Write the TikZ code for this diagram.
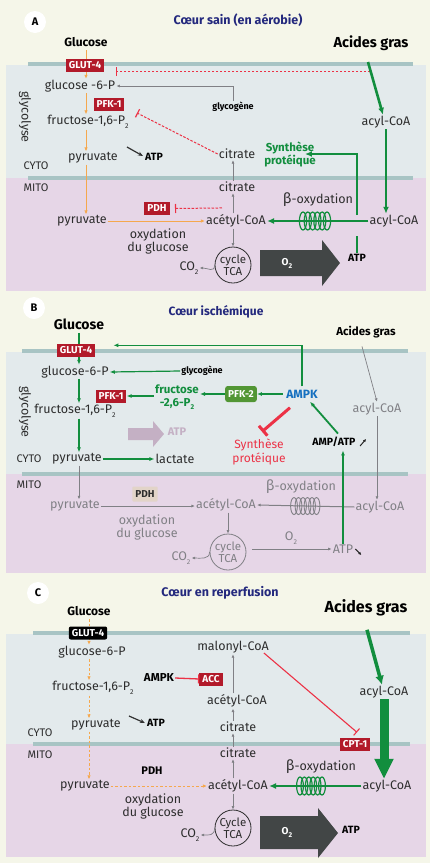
\documentclass[tikz,border=0pt]{standalone}
\usepackage{fontspec}
\setmainfont{Fira Sans}
\usetikzlibrary{positioning, shapes, arrows.meta, calc}

\definecolor{bgcream}{RGB}{245,246,233}
\definecolor{cytobg}{RGB}{227,234,236}
\definecolor{mitobg}{RGB}{230,214,231}
\definecolor{membr}{RGB}{168,196,196}
\definecolor{titleblue}{RGB}{35,40,125}
\definecolor{enzred}{RGB}{178,26,42}
\definecolor{inhred}{RGB}{236,50,70}
\definecolor{flowgreen}{RGB}{18,142,62}
\definecolor{glyorange}{RGB}{245,168,78}
\definecolor{ampkblue}{RGB}{22,112,192}
\definecolor{darkarrow}{RGB}{66,70,70}
\definecolor{fadegrey}{RGB}{128,128,133}
\definecolor{labelgrey}{RGB}{45,45,45}
\definecolor{pdhbeige}{RGB}{226,212,200}
\definecolor{pfkfill}{RGB}{82,150,52}
\definecolor{paleatp}{RGB}{196,176,196}

\newcommand{\dn}[1]{\raisebox{-0.55ex}{\scriptsize #1}}

\tikzset{
  lbl/.style={font=\fontsize{12.5}{13}\selectfont, text=labelgrey, inner sep=1pt},
  grlbl/.style={lbl, text=fadegrey},
  lblb/.style={font=\bfseries\fontsize{10.5}{12}\selectfont, text=black, inner sep=1pt},
  smallb/.style={font=\bfseries\fontsize{9}{10}\selectfont, text=black, inner sep=1pt},
  vert/.style={lbl, rotate=-90},
  letter/.style={circle, fill=white, inner sep=0pt, minimum size=22pt, font=\bfseries\fontsize{11}{12}\selectfont},
  titre/.style={font=\bfseries\fontsize{12.5}{13}\selectfont, text=titleblue},
  enz/.style={fill=enzred, text=white, font=\bfseries\fontsize{10}{11}\selectfont, inner xsep=3pt, inner ysep=1.5pt, minimum height=13pt},
  enzk/.style={enz, fill=black, rounded corners=2pt},
  pdhpale/.style={enz, fill=pdhbeige, text=labelgrey, rounded corners=1pt, minimum height=15pt},
  pfkbox/.style={enz, fill=pfkfill, rounded corners=2.5pt, minimum height=16pt},
  tca/.style={circle, draw=labelgrey, line width=0.8pt, inner sep=0pt, minimum size=36pt, align=center, font=\fontsize{11.5}{10}\selectfont, text=labelgrey},
  greenb/.style={font=\bfseries\fontsize{11.5}{13}\selectfont, text=flowgreen, align=center, inner sep=1pt},
  o2lbl/.style={font=\bfseries\fontsize{10}{11}\selectfont, text=white},
  glyc/.style={glyorange, line width=1pt, -{Latex[length=4pt,width=3.5pt]}},
  glycd/.style={glyc, dash pattern=on 2.5pt off 2pt},
  grarr/.style={fadegrey, line width=0.7pt, -{Latex[length=3.5pt,width=3pt]}},
  grnA/.style={flowgreen, line width=2.2pt, -{Latex[length=7pt,width=6pt]}},
  grnB/.style={flowgreen, line width=1.2pt, -{Latex[length=5pt,width=4pt]}},
  inhd/.style={inhred, line width=1pt, dash pattern=on 2.5pt off 1.5pt, -{Bar[width=9pt, line width=1.2pt]}},
  inhs/.style={inhred, line width=1.3pt, -{Bar[width=9pt]}},
  atparr/.style={black!80, line width=1.2pt, -{Stealth[length=5pt,width=4pt]}},
  tinyarr/.style={black!85, line width=1pt, -{Latex[length=3pt,width=3pt]}},
}

\begin{document}
\begin{tikzpicture}[x=1pt, y=-1pt]
  \useasboundingbox (0,0) rectangle (430,863);
  \fill[bgcream] (0,0) rectangle (430,863);

  % ---------- A : coeur sain ----------
  \fill[cytobg] (6,65) rectangle (426,178);
  \fill[mitobg] (6,178) rectangle (426,291);
  \draw[membr, line width=4pt] (28,64) -- (413,64);
  \draw[membr, line width=4pt] (28,178) -- (413,178);

  % Nodes
  \node[letter] (letA) at (35,22) {A};
  \node[titre] (titA) at (238,20) {Cœur sain (en aérobie)};
  \node[font=\bfseries\fontsize{12}{13}\selectfont] (glcA) at (86,42) {Glucose};
  \node[font=\bfseries\fontsize{14.5}{15}\selectfont] (agA) at (371,43) {Acides gras};
  \node[lbl] (g6pA) at (80,86) {glucose -6-P};
  \node[lbl] (f16A) at (88,122) {fructose-1,6-P\dn{2}};
  \node[vert] (glyA) at (25,117) {glycolyse};
  \node[lbl] (pyrcA) at (93,158) {pyruvate};
  \node[lblb] (atpcA) at (154,157) {ATP};
  \node[lbl, font=\fontsize{11}{12}\selectfont] (cytoA) at (36,166) {CYTO};
  \node[lbl, font=\fontsize{11}{12}\selectfont] (mitoA) at (36,188) {MITO};
  \node[lbl] (pyrmA) at (82,221) {pyruvate};
  \node[lbl, align=center] (oxgA) at (158,241) {oxydation\\du glucose};
  \node[lbl] (acetA) at (236,221) {acétyl-CoA};
  \node[lbl] (citmA) at (237,187) {citrate};
  \node[lbl] (citcA) at (237,154) {citrate};
  \node[smallb] (glygA) at (233,107) {glycogène};
  \node[tca] (tcaA) at (233,265) {cycle\\TCA};
  \node[lbl] (co2A) at (189,268) {CO\dn{2}};
  \node[lbl] (acylcA) at (386,122) {acyl-CoA};
  \node[lbl] (acylmA) at (394,221) {acyl-CoA};
  \node[greenb] (synA) at (290,154) {Synthèse\\protéique};
  \node[lblb] (atpmA) at (357,258) {ATP};
  \node[lbl] (boxA) at (318,200) {{\Large β}-oxydation};
  \coordinate (faA) at (370,71.5);
  \coordinate (coilA) at (315,221);

  % Arrows
  \draw[glyc] (glcA.south) -- (glcA.south |- g6pA.north);
  \draw[glyc] (g6pA.south -| glcA.south) -- (f16A.north -| glcA.south);
  \draw[glyc] (f16A.south -| glcA.south) -- (pyrcA.north -| glcA.south);
  \draw[glyc] (pyrcA.south -| glcA.south) -- (pyrmA.north -| glcA.south);
  \draw[glyc] (pyrmA.east) -- (acetA.west);
  \draw[atparr] ($(atpcA.west)+(-17,-10)$) -- ($(atpcA.west)+(-1,-1)$);
  \draw[grarr] (glygA.north) |- (g6pA.east);
  \draw[grarr] (acetA.north -| tcaA) -- (citmA.south -| tcaA);
  \draw[grarr] (citmA.north -| tcaA) -- (citcA.south -| tcaA);
  \draw[grarr] (acetA.south -| tcaA) -- (tcaA.north);
  \draw[grarr] (tcaA.west) .. controls +(0,8) and +(8,0) .. (co2A.east);
  \draw[inhd] (faA) -- ($(faA -| glcA.east)+(5,0)$);
  \draw[inhd] (citcA.west) -- (137,113);
  \draw[inhd] (acetA.north) ++(-14,-5.5) -- (175,208.5);
  \draw[grnA, line width=2.6pt] ($(agA.south)+(-3,8)$) -- ($(acylcA.north)+(-3,0)$);
  \draw[grnA] (acylcA.south) -- (acylcA.south |- acylmA.north);
  \draw[grnA, line width=1.8pt] (acylmA.west) -- (acetA.east);
  \foreach \i in {0,...,5}
    \draw[flowgreen, line width=1.2pt] ($(coilA)+(\i*4.8-12,0)$) ellipse (3.6 and 9);
  \draw[flowgreen, line width=2.2pt] (atpmA.north) -- ++(0,-17);
  \draw[grnA] ($(atpmA.north)+(0,-38)$) |- ($(synA.east)+(-12,0)$);

  % enzymes and O2
  \node[enz] (glutA) at (85,65) {GLUT-4};
  \node[enz] (pfkA) at (109,104) {PFK-1};
  \node[enz] (pdhA) at (157,208) {PDH};
  \fill[darkarrow] (260,250) -- (322,250) -- (322,240) -- (340,263) -- (322,286) -- (322,276) -- (260,276) -- cycle;
  \node[o2lbl] (o2A) at (287,263) {O\dn{2}};

  % ---------- B : coeur ischemique ----------
  \fill[cytobg] (6,352) rectangle (426,474);
  \fill[mitobg] (6,474) rectangle (426,573);
  \draw[membr, line width=4pt] (22,351) -- (408,351);
  \draw[membr, line width=4pt] (22,474) -- (408,474);

  % Nodes
  \node[letter] (letB) at (34,308) {B};
  \node[titre, font=\bfseries\fontsize{12}{13}\selectfont] (titB) at (216,312) {Cœur ischémique};
  \node[font=\bfseries\fontsize{14}{15}\selectfont] (glcB) at (79,324) {Glucose};
  \node[font=\bfseries\fontsize{11.5}{13}\selectfont] (agB) at (366,332) {Acides gras};
  \node[lbl] (g6pB) at (75,372) {glucose-6-P};
  \node[smallb] (glygB) at (202,371) {glycogène};
  \node[greenb] (f26B) at (177,397) {fructose\\-2,6-P\dn{2}};
  \node[font=\bfseries\fontsize{12}{13}\selectfont, text=ampkblue] (ampkB) at (302,394) {AMPK};
  \node[lbl] (f16B) at (75,411) {fructose-1,6-P\dn{2}};
  \node[vert] (glyB) at (25,412) {glycolyse};
  \node[font=\bfseries\fontsize{11}{12}\selectfont, text=paleatp] (atpfB) at (177,432) {ATP};
  \node[lbl] (pyrcB) at (77,459) {pyruvate};
  \node[lbl] (lacB) at (175,459) {lactate};
  \node[lbl, font=\fontsize{11}{12}\selectfont] (cytoB) at (29,459) {CYTO};
  \node[lbl, font=\fontsize{11}{12}\selectfont] (mitoB) at (29,485) {MITO};
  \node[grlbl] (pyrmB) at (75,506) {pyruvate};
  \node[grlbl, align=center] (oxgB) at (147,527) {oxydation\\du glucose};
  \node[grlbl] (acetB) at (226,505) {acétyl-CoA};
  \node[tca, draw=fadegrey, text=fadegrey] (tcaB) at (228,552) {cycle\\TCA};
  \node[grlbl] (co2B) at (181,558) {CO\dn{2}};
  \node[grlbl] (boxB) at (301,487) {{\Large β}-oxydation};
  \node[grlbl] (acylmB) at (380,507) {acyl-CoA};
  \node[grlbl] (acylcB) at (377,409) {acyl-CoA};
  \node[grlbl] (o2B) at (291,538) {O\dn{2}};
  \node[grlbl] (atpmB) at (343,549) {ATP};
  \node[font=\bfseries\fontsize{10.5}{12}\selectfont] (ampatpB) at (334,442) {AMP/ATP};
  \node[greenb, text=inhred, font=\fontsize{12}{14}\selectfont] (synB) at (259,452) {Synthèse\\protéique};
  \coordinate (coilB) at (305,506);

  % Arrows
  \draw[grnB] (glcB.south) -- (glcB.south |- g6pB.north);
  \draw[grnB] (g6pB.south -| glcB.south) -- (f16B.north -| glcB.south);
  \draw[grnB] (f16B.south -| glcB.south) -- (pyrcB.north -| glcB.south);
  \draw[grnB] (pyrcB.east) -- (lacB.west);
  \draw[grarr] (pyrcB.south -| glcB.south) -- (pyrmB.north -| glcB.south);
  \draw[grnB] (glygB.west) -- (g6pB.east);
  \fill[paleatp] (128,428) -- (153,428) -- (153,421) -- (164,434) -- (153,447) -- (153,440) -- (128,440) -- cycle;
  \draw[grarr] (pyrmB.east) -- (acetB.west |- pyrmB.east);
  \draw[grarr] (acetB.south -| tcaB) -- (tcaB.north);
  \draw[grarr] (tcaB.west) .. controls +(0,8) and +(8,0) .. (co2B.east);
  \draw[grarr] ($(tcaB.east |- atpmB.west)+(6,0)$) -- (atpmB.west);
  \draw[grarr] ($(agB.south)+(-4,5)$) -- (acylcB.north);
  \draw[grarr] (acylcB.south) -- (acylcB.south |- acylmB.north);
  \draw[grarr, line width=1pt] (acylmB.west) -- (acetB.east);
  \foreach \i in {0,...,5}
    \draw[fadegrey, line width=0.9pt] ($(coilB)+(\i*4.5-11,0)$) ellipse (3.4 and 8.5);
  \draw[tinyarr] ($(atpmB.east)+(1,0)$) -- ++(6,6);
  \draw[tinyarr] ($(ampatpB.east)+(1,4)$) -- ++(6,-7);
  \draw[grnB] (atpmB.north) -- (ampatpB.south -| atpmB.north);
  \draw[grnB, line width=1.8pt] ($(ampatpB.north)+(4,0)$) -- ($(ampkB.south)+(8,0)$);
  \draw[inhred, line width=3pt, -{Bar[width=13pt, line width=3pt]}] ($(ampkB.south)+(-12,6)$) -- ($(synB.north)+(3,-6)$);

  % enzymes
  \node[enz] (glutB) at (76,350) {GLUT-4};
  \node[enz] (pfkB) at (111,396) {PFK-1};
  \node[pfkbox] (pfk2B) at (241,394) {PFK-2};
  \node[pdhpale] (pdhB) at (145,494) {PDH};
  \draw[grnB] (f26B.west |- pfkB.east) -- (pfkB.east);
  \draw[grnB] (pfk2B.west) -- (f26B.east |- pfk2B.west);
  \draw[grnB] (ampkB.west) -- (pfk2B.east);
  \draw[grnB] (ampkB.north) |- ($(glutB.north east)+(18,2)$);

  % ---------- C : coeur en reperfusion ----------
  \fill[cytobg] (6,634) rectangle (426,744);
  \fill[mitobg] (6,744) rectangle (426,857);
  \draw[membr, line width=4pt] (33,633) -- (410,633);
  \draw[membr, line width=4pt] (33,744) -- (410,744);

  % Nodes
  \node[letter] (letC) at (38,593) {C};
  \node[titre] (titC) at (220,593) {Cœur en reperfusion};
  \node[font=\bfseries\fontsize{12}{13}\selectfont] (glcC) at (89,611) {Glucose};
  \node[font=\bfseries\fontsize{16}{17}\selectfont] (agC) at (366,608) {Acides gras};
  \node[lbl] (g6pC) at (92,652) {glucose-6-P};
  \node[lbl] (f16C) at (93,688) {fructose-1,6-P\dn{2}};
  \node[lbl] (pyrcC) at (96,725) {pyruvate};
  \node[lblb] (atpcC) at (156,723) {ATP};
  \node[lbl, font=\fontsize{11}{12}\selectfont] (cytoC) at (40,733) {CYTO};
  \node[lbl, font=\fontsize{11}{12}\selectfont] (mitoC) at (40,755) {MITO};
  \node[lbl] (pyrmC) at (85,786) {pyruvate};
  \node[lblb, font=\bfseries\fontsize{11}{12}\selectfont] (pdhC) at (152,771) {PDH};
  \node[lbl, align=center] (oxgC) at (153,806) {oxydation\\du glucose};
  \node[lbl] (co2C) at (190,835) {CO\dn{2}};
  \node[tca] (tcaC) at (233,828) {Cycle\\TCA};
  \node[lbl] (acetmC) at (238,786) {acétyl-CoA};
  \node[lbl] (citmC) at (238,753) {citrate};
  \node[lbl] (citcC) at (238,727) {citrate};
  \node[lbl] (acetcC) at (237,701) {acétyl-CoA};
  \node[lbl] (malC) at (233,647) {malonyl-CoA};
  \node[lblb, font=\bfseries\fontsize{11.5}{12}\selectfont] (ampkC) at (159,678) {AMPK};
  \node[lbl] (acylcC) at (384,692) {acyl-CoA};
  \node[lbl] (acylmC) at (387,786) {acyl-CoA};
  \node[lbl] (boxC) at (321,767) {{\Large β}-oxydation};
  \node[lblb] (atpmC) at (351,830) {ATP};
  \coordinate (coilC) at (311,786);

  % Arrows
  \draw[glycd] (glcC.south) -- (glcC.south |- g6pC.north);
  \draw[glycd] (g6pC.south -| glcC.south) -- (f16C.north -| glcC.south);
  \draw[glycd] (f16C.south -| glcC.south) -- (pyrcC.north -| glcC.south);
  \draw[glycd] (pyrcC.south -| glcC.south) -- (pyrmC.north -| glcC.south);
  \draw[glycd] (pyrmC.east) -- (acetmC.west);
  \draw[atparr] ($(atpcC.west)+(-17,-7)$) -- ($(atpcC.west)+(-1,0)$);
  \draw[grarr] (acetcC.north -| tcaC) -- (malC.south -| tcaC);
  \draw[grarr] (citcC.north -| tcaC) -- (acetcC.south -| tcaC);
  \draw[grarr] (citmC.north -| tcaC) -- (citcC.south -| tcaC);
  \draw[grarr] (acetmC.north -| tcaC) -- (citmC.south -| tcaC);
  \draw[grarr] (acetmC.south -| tcaC) -- (tcaC.north);
  \draw[grarr] (tcaC.west) .. controls +(0,8) and +(8,0) .. (co2C.east);
  \draw[grnA, line width=3.5pt, -{Latex[length=9pt,width=9pt]}] ($(agC.south)+(1,10)$) -- ($(acylcC.north)+(-2,0)$);
  \draw[flowgreen, line width=9pt, -{Triangle[length=20pt,width=18pt]}] (acylcC.south) -- (acylcC.south |- acylmC.north);
  \draw[grnA, line width=1.8pt] (acylmC.west) -- (acetmC.east);
  \foreach \i in {0,...,5}
    \draw[flowgreen, line width=1.2pt] ($(coilC)+(\i*4.4-11,0)$) ellipse (3.4 and 9);

  % enzymes and O2
  \node[enzk] (glutC) at (88,633) {GLUT-4};
  \node[enz] (accC) at (211,679) {ACC};
  \node[enz] (cptC) at (355,744) {CPT-1};
  \draw[inhs] (ampkC.east) -- (accC.west);
  \draw[inhs, line width=1.1pt] ($(malC.east)+(-6,6)$) -- ($(cptC.north)+(2,-5)$);
  \fill[darkarrow] (260,816) -- (318,816) -- (318,808) -- (338,833) -- (318,858) -- (318,849) -- (260,849) -- cycle;
  \node[o2lbl] (o2C) at (287,832) {O\dn{2}};
\end{tikzpicture}
\end{document}
